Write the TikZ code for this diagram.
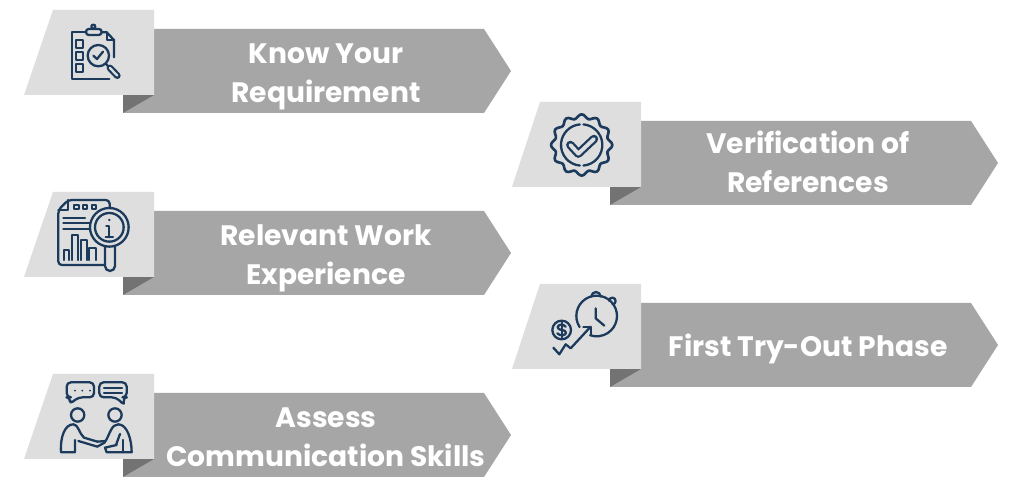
\documentclass[tikz,border=0pt]{standalone}
\usepackage{fontspec}
\setmainfont{Poppins}
\usepackage{tikz}

\definecolor{bodygray}{HTML}{A6A6A6}
\definecolor{foldgray}{HTML}{737373}
\definecolor{tabgray}{HTML}{DEDEDE}
\definecolor{iconblue}{HTML}{1B3A5C}

\tikzset{
    icon/.style={draw=iconblue, line width=0.65pt, line join=round, line cap=round},
    steplabel/.style={text=white, font=\bfseries\fontsize{8}{11}\selectfont, align=center},
}

% one tab with its arrow, (#1,#2) is the top left corner of the arrow's notch, #3 the tab's slant foot
\newcommand{\stepitem}[3]{
    \fill[bodygray] (#1,#2) -- (#1+330,#2) -- (#1+357,#2+42) -- (#1+330,#2+84) -- (#1-31,#2+84) -- (#1-31,#2+66) -- (#1,#2+66) -- cycle;
    \fill[foldgray] (#1-31,#2+66) -- (#1,#2+66) -- (#1-31,#2+84) -- cycle;
    \fill[tabgray] (#1-101,#2-19) -- (#1,#2-19) -- (#1,#2+66) -- (#1-#3,#2+66) -- cycle;
}

\begin{document}
\begin{tikzpicture}[x=0.01cm,y=-0.01cm]
    \useasboundingbox (0,0) rectangle (1024,492);
    \fill[white] (0,0) rectangle (1024,492);

    \stepitem{154}{29}{130}
    \stepitem{154}{211}{130}
    \stepitem{154}{393}{130}
    \stepitem{641}{121}{129}
    \stepitem{641}{303}{129}

    \node[steplabel] (know) at (326,77) {Know Your\\Requirement};
    \node[steplabel] (relevant) at (326,258.5) {Relevant Work\\Experience};
    \node[steplabel] (assess) at (326,437) {Assess\\Communication Skills};
    \node[steplabel] (verify) at (808,162) {Verification of\\References};
    \node[steplabel] (tryout) at (808,349) {First Try-Out Phase};

    % clipboard
    \begin{scope}[shift={(10,0)},scale=1/3]
        \draw[icon] (228,97) -- (187,97) -- (187,238) -- (298,238);
        \draw[icon] (275,97) -- (290,97) -- (312,120) -- (312,172);
        \draw[icon] (290,97) -- (290,120) -- (312,120);
        \draw[icon,rounded corners=0.8pt] (228,105) -- (228,87) -- (275,87) -- (275,105) -- cycle;
        \draw[icon] (250,80) circle (6);
        \foreach \sqy in {120,157,193}
            \draw[icon] (197,\sqy) rectangle (220,\sqy+23);
        \draw[icon] (265,167) circle (32);
        \draw[icon] (250,167) -- (261,177) -- (279,155);
        \draw[icon] (288,192) -- (296,200);
        \draw[iconblue,line width=1.9pt,line cap=round] (300,204) -- (322,227);
        \draw[tabgray,line width=0.65pt,line cap=round] (300,204) -- (322,227);
    \end{scope}

    % report under a lens
    \begin{scope}[shift={(10,185)},scale=1/3]
        \draw[icon,rounded corners=1pt] (240,45) -- (175,45) -- (145,75) -- (145,240) -- (283,240);
        \draw[icon,rounded corners=1pt] (240,45) -- (298,45) -- (300,70);
        \draw[icon] (175,45) -- (175,75) -- (145,75);
        \foreach \sqx in {192,218,245}
            \draw[icon] (\sqx,60) rectangle (\sqx+14,72);
        \draw[icon] (160,98) -- (225,98);
        \draw[icon] (160,115) -- (240,115);
        \draw[icon] (160,132) -- (240,132);
        \draw[icon] (162,225) -- (162,195) -- (178,195) -- (178,225);
        \draw[icon] (187,225) -- (187,150) -- (205,150) -- (205,225);
        \draw[icon] (213,225) -- (213,165) -- (230,165) -- (230,225);
        \draw[icon] (238,225) -- (238,190) -- (258,190) -- (258,225);
        \draw[icon] (298,127) circle (58);
        \draw[icon] (298,127) circle (43);
        \fill[iconblue] (298,105) circle (4);
        \draw[icon] (289,122) -- (298,122) -- (298,157);
        \draw[icon] (287,157) -- (309,157);
        \draw[icon] (285,186) -- (285,243) arc (180:0:15) -- (315,186);
    \end{scope}

    % two people shaking hands
    \begin{scope}[shift={(10,365)},scale=1/3]
        \draw[icon,rounded corners=1.2pt] (182,97) -- (170,97) -- (170,52) -- (252,52) -- (252,97) -- (205,97) -- (178,118) -- cycle;
        \draw[icon,rounded corners=1.2pt] (338,97) -- (350,97) -- (350,52) -- (268,52) -- (268,97) -- (318,97) -- (345,122) -- cycle;
        \foreach \dotx in {195,217,240}
            \fill[iconblue] (\dotx,77) circle (3);
        \draw[icon] (282,68) -- (336,68);
        \draw[icon] (282,83) -- (336,83);
        \draw[icon] (203,150) circle (20);
        \draw[icon] (315,150) circle (20);
        \draw[icon] (195,225) -- (195,262) -- (153,262) .. controls (150,215) and (165,178) .. (190,178) .. controls (205,178) and (207,205) .. (222,218) -- (262,230);
        \draw[icon] (205,228) -- (262,245) -- (285,232);
        \draw[icon] (262,230) -- (287,228) .. controls (300,205) and (305,178) .. (325,178) .. controls (352,178) and (365,225) .. (365,262) -- (290,262) -- (285,248) -- (320,240);
        \draw[icon] (330,207) -- (318,240);
        \draw[icon] (338,225) -- (338,262);
    \end{scope}

    % badge with a tick
    \begin{scope}[shift={(500,95)},scale=1/3]
        \draw[icon,line width=0.75pt,smooth cycle,samples=96,domain=0:356.25] plot[variable=\ang] ({245+(86+6*cos(12*\ang))*cos(\ang)},{150+(86+6*cos(12*\ang))*sin(\ang)});
        \draw[icon] (245,150) ++(85:62) arc (85:-85:62);
        \draw[icon] (245,150) ++(95:62) arc (95:265:62);
        \draw[line width=2.4pt,draw=iconblue,line join=round,line cap=round] (211,150) -- (235,176) -- (282,132);
        \draw[line width=1.1pt,draw=tabgray,line join=round,line cap=round] (211,150) -- (235,176) -- (282,132);
    \end{scope}

    % stopwatch, coin and rising line
    \begin{scope}[shift={(500,275)},scale=1/3]
        \draw[icon] (290,123) ++(147:61) arc (147:469:61);
        \draw[icon] (274,65) arc (180:360:14);
        \draw[icon] (337,78) ++(185:10) arc (185:445:10);
        \draw[icon] (287,100) -- (287,130) -- (313,152);
        \draw[icon] (185,165) circle (28);
        \draw[icon] (197,155) .. controls (190,146) and (173,148) .. (173,157) .. controls (173,168) and (198,162) .. (198,173) .. controls (198,182) and (180,184) .. (172,175);
        \draw[icon] (185,143) -- (185,187);
        \draw[icon] (160,218) -- (178,238) -- (197,208) -- (212,220) -- (272,155);
        \draw[icon] (250,155) -- (272,155) -- (272,180);
    \end{scope}
\end{tikzpicture}
\end{document}
